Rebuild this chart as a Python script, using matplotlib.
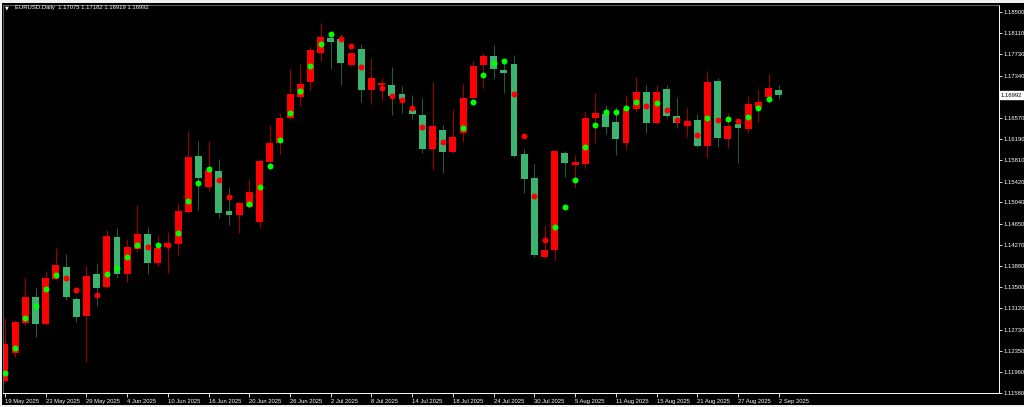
import numpy as np
import pandas as pd
import matplotlib
matplotlib.use("Agg")
import matplotlib.pyplot as plt
import matplotlib.transforms as mtransforms
from matplotlib.patches import Rectangle

# EURUSD daily candles, 19 May 2025 - 2 Sep 2025
dates = pd.bdate_range("2025-05-19", "2025-09-02")

open_ = [1.11798, 1.12307, 1.12852, 1.13324, 1.12833, 1.13651, 1.13869, 1.13288, 1.12979, 1.13741,
         1.13506, 1.14414, 1.13741, 1.14196, 1.14468, 1.13942, 1.14232, 1.14286, 1.14868, 1.15885,
         1.15322, 1.15613, 1.14886, 1.14813, 1.14959, 1.14686, 1.15776, 1.16121, 1.16575, 1.16956,
         1.17229, 1.17756, 1.18028, 1.18010, 1.17538, 1.17828, 1.17083, 1.17174, 1.17174, 1.17010,
         1.16720, 1.16629, 1.16012, 1.16357, 1.15958, 1.16303, 1.16938, 1.17538, 1.17701, 1.17447,
         1.17556, 1.15921, 1.15486, 1.14051, 1.14178, 1.15940, 1.15722, 1.15740, 1.16575, 1.16647,
         1.16502, 1.16121, 1.16738, 1.17047, 1.16484, 1.17101, 1.16611, 1.16430, 1.16539, 1.16066,
         1.17247, 1.16193, 1.16466, 1.16375, 1.16756, 1.16956, 1.17075]

high = [1.12943, 1.12906, 1.13669, 1.13488, 1.13796, 1.14214, 1.14105, 1.13324, 1.13887, 1.13942,
        1.14541, 1.14577, 1.14378, 1.14995, 1.14595, 1.14432, 1.14505, 1.15032, 1.16339, 1.16157,
        1.16157, 1.15831, 1.15322, 1.15050, 1.15468, 1.15831, 1.16448, 1.16666, 1.17465, 1.17555,
        1.17865, 1.18301, 1.18100, 1.18100, 1.17774, 1.17919, 1.17665, 1.17301, 1.17501, 1.17156,
        1.16992, 1.16938, 1.17229, 1.16448, 1.16738, 1.17192, 1.17610, 1.17756, 1.17901, 1.17574,
        1.17719, 1.16012, 1.15740, 1.14631, 1.15994, 1.15976, 1.15903, 1.16702, 1.17029, 1.16811,
        1.16775, 1.16992, 1.17319, 1.17174, 1.17174, 1.17174, 1.16956, 1.16756, 1.16647, 1.17428,
        1.17301, 1.16666, 1.16539, 1.16974, 1.17101, 1.17374, 1.17182]

low = [1.11762, 1.12234, 1.12815, 1.12598, 1.12815, 1.13633, 1.13269, 1.12870, 1.12144, 1.13160,
       1.13488, 1.13669, 1.13597, 1.14142, 1.13741, 1.13887, 1.13760, 1.14087, 1.14850, 1.14904,
       1.15249, 1.14759, 1.14631, 1.14487, 1.14941, 1.14577, 1.15740, 1.15921, 1.16539, 1.16793,
       1.17083, 1.17610, 1.17465, 1.17174, 1.17519, 1.16866, 1.16829, 1.16902, 1.16629, 1.16666,
       1.16557, 1.15940, 1.15631, 1.15576, 1.15940, 1.16139, 1.16920, 1.17120, 1.17301, 1.17029,
       1.15867, 1.15213, 1.14051, 1.14033, 1.13996, 1.15504, 1.15304, 1.15667, 1.16121, 1.16284,
       1.15903, 1.15994, 1.16684, 1.16303, 1.16466, 1.16575, 1.16393, 1.16230, 1.16048, 1.15849,
       1.16048, 1.16030, 1.15758, 1.16303, 1.16502, 1.16847, 1.16919]

close = [1.12470, 1.12870, 1.13324, 1.12833, 1.13669, 1.13905, 1.13324, 1.12961, 1.13705, 1.13488,
         1.14432, 1.13741, 1.14232, 1.14468, 1.13942, 1.14214, 1.14305, 1.14886, 1.15867, 1.15486,
         1.15631, 1.14850, 1.14813, 1.15032, 1.15231, 1.15794, 1.16121, 1.16575, 1.17010, 1.17192,
         1.17810, 1.18046, 1.17956, 1.17574, 1.17756, 1.17083, 1.17301, 1.17210, 1.16974, 1.16920,
         1.16647, 1.16012, 1.16430, 1.15958, 1.16230, 1.16938, 1.17519, 1.17701, 1.17465, 1.17392,
         1.15885, 1.15468, 1.14087, 1.14178, 1.15976, 1.15758, 1.15776, 1.16575, 1.16666, 1.16411,
         1.16193, 1.16756, 1.17047, 1.16484, 1.17047, 1.16611, 1.16484, 1.16520, 1.16066, 1.17229,
         1.16212, 1.16430, 1.16393, 1.16829, 1.16866, 1.17120, 1.16992]

# indicator dots (value + direction: U = lime, D = red, - = none)
dot_val = [1.11944, 1.12398, 1.12943, 1.13160, 1.13470, 1.13723, 1.13669, 1.13451, 1.13415, 1.13360,
           1.13741, 1.13851, 1.14051, 1.14268, 1.14232, 1.14268, 1.14268, 1.14487, 1.15068, 1.15395,
           1.15649, 1.15449, 1.15140, 1.14959, 1.15014, 1.15322, 1.15703, 1.16175, 1.16666, 1.17065,
           1.17519, 1.17919, 1.18100, 1.18010, 1.17883, 1.17501, 1.17265, 1.17120, 1.16974, 1.16902,
           1.16756, 1.16411, 1.16212, 1.16139, 1.16084, 1.16393, 1.16866, 1.17356, 1.17574, 1.17610,
           1.17010, 1.16248, 1.15158, 1.14359, 1.14595, 1.14959, 1.15449, 1.16048, 1.16448, 1.16684,
           1.16684, 1.16756, 1.16866, 1.16793, 1.16847, 1.16720, 1.16539, 1.16484, 1.16266, 1.16575,
           1.16539, 1.16557, 1.16520, 1.16593, 1.16756, 1.16920, np.nan]
dot_dir = ("UUUUUU" "DDDD" "UUUU" "D" "U" "D" "UUUU" "DDD" "UUUUUUUUU" "DDDDDDDDDDDD"
           "UUUUU" "DDDD" "UUUUUUUUU" "D" "U" "DDDD" "U" "D" "U" "D" "UUU" "-")

price_ticks = [1.18500, 1.18110, 1.17730, 1.17340, 1.16570, 1.16190, 1.15810, 1.15420, 1.15040,
               1.14650, 1.14270, 1.13880, 1.13500, 1.13120, 1.12730, 1.12350, 1.11960, 1.11580]
last_price = 1.16992
header = "EURUSD.Daily  1.17075 1.17182 1.16919 1.16992"

plt.rcParams['font.family'] = ['Liberation Sans', 'DejaVu Sans']
fs = 4.2

x = np.arange(len(dates))
o = np.array(open_)
h = np.array(high)
l = np.array(low)
c = np.array(close)
up = c > o

W, H = 1024, 407
fig = plt.figure(figsize=(W / 100, H / 100), dpi=100, facecolor='black')
ax = fig.add_axes([3 / W, 14 / H, 996 / W, 388 / H])
ax.set_facecolor('black')

# wicks
ax.vlines(x[up], l[up], h[up], color='#990000', lw=0.8, zorder=1)
ax.vlines(x[~up], l[~up], h[~up], color='#1f5a34', lw=0.8, zorder=1)

# bodies
body_bot = np.minimum(o, c)
body_h = np.maximum(np.abs(c - o), 0.00015)
ax.bar(x[up], body_h[up], bottom=body_bot[up], width=0.68, color='#ff0000', lw=0, zorder=2)
ax.bar(x[~up], body_h[~up], bottom=body_bot[~up], width=0.68, color='#3cb371', lw=0, zorder=2)

# dots
dv = np.array(dot_val)
dd = np.array(list(dot_dir))
ax.plot(x[dd == 'U'], dv[dd == 'U'], 'o', color='#00ff00', ms=4.3, mew=0, zorder=3)
ax.plot(x[dd == 'D'], dv[dd == 'D'], 'o', color='#ff0000', ms=4.3, mew=0, zorder=3)

ax.set_xlim(-0.196, 97.64)
ax.set_ylim(1.11581, 1.18627)

# price scale on the right
ax.yaxis.tick_right()
ax.set_yticks(price_ticks)
ax.set_yticklabels([f"{v:.5f}" for v in price_ticks])
ax.tick_params(axis='y', colors='white', length=2, width=0.6, labelsize=fs, pad=1)

# date scale
tick_idx = x[::4]
ax.set_xticks(tick_idx)
ax.set_xticklabels([f"{d.day} {d.strftime('%b %Y')}" for d in dates[::4]])
ax.tick_params(axis='x', colors='white', length=3, width=0.6, labelsize=fs, pad=1.5)
for lbl in ax.get_xticklabels():
    lbl.set_ha('left')

for side in ['bottom', 'right']:
    ax.spines[side].set_color('white')
    ax.spines[side].set_linewidth(0.7)
for side in ['top', 'left']:
    ax.spines[side].set_color('#707070')
    ax.spines[side].set_linewidth(0.6)

# current price box
trans = mtransforms.blended_transform_factory(ax.transAxes, ax.transData)
ax.text(1.0 + 2 / 996, last_price, f"{last_price:.5f}", transform=trans, ha='left', va='center',
        fontsize=fs, color='black',
        bbox=dict(boxstyle='square,pad=0.25', fc='white', ec='white'))

# header
fig.text(5 / W, 1 - 8 / H, '\u25bc', color='white', fontsize=3.5, va='center', family='DejaVu Sans')
fig.text(15 / W, 1 - 8 / H, header, color='white', fontsize=fs, va='center')

# light frame around the window
fig.patches.append(Rectangle((0, 1 - 3 / H), 1, 3 / H, transform=fig.transFigure, fc='#f0f0f0', ec='none'))
fig.patches.append(Rectangle((0, 0), 2 / W, 1, transform=fig.transFigure, fc='#f0f0f0', ec='none'))
fig.patches.append(Rectangle((0, 0), 1, 2 / H, transform=fig.transFigure, fc='#f0f0f0', ec='none'))

fig.savefig("out.png", dpi=100, facecolor=fig.get_facecolor())
